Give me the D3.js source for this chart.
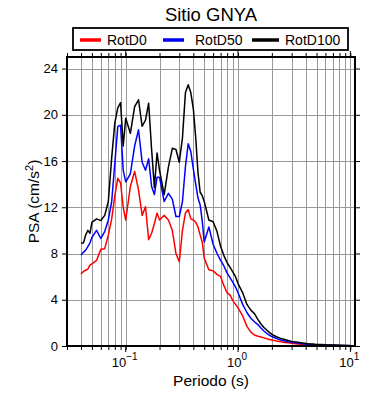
<!DOCTYPE html>
<html>
<head>
<meta charset="utf-8">
<script src="https://cdn.jsdelivr.net/npm/d3@7"></script>
<style>
  body { margin: 0; background: #fff; }
  svg { font-family: "Liberation Sans", Arial, sans-serif; }
</style>
</head>
<body>
<div id="main"></div>
<script>
// periods (s)
const periods = [0.04, 0.042, 0.044, 0.046, 0.048, 0.05, 0.055, 0.06, 0.065, 0.07, 0.075, 0.08, 0.085, 0.09, 0.095,
    0.1, 0.11, 0.12, 0.13, 0.14, 0.15, 0.16, 0.17, 0.18, 0.19, 0.2, 0.22, 0.24, 0.26, 0.28, 0.3, 0.32, 0.34, 0.36, 0.38,
    0.4, 0.42, 0.44, 0.46, 0.48, 0.5, 0.55, 0.6, 0.65, 0.7, 0.75, 0.8, 0.85, 0.9, 0.95,
    1.0, 1.1, 1.2, 1.3, 1.4, 1.5, 1.6, 1.7, 1.8, 1.9, 2.0, 2.2, 2.4, 2.6, 2.8, 3.0, 3.4, 3.8, 4.2, 4.6,
    5.0, 5.5, 6.0, 7.0, 8.0, 9.0, 10.0];

// PSA (cm/s2)
const rotD0 = [6.23, 6.45, 6.55, 6.65, 7.0, 7.1, 7.4, 8.36, 8.42, 9.6, 11.0, 13.0, 14.5, 14.1, 12.0,
    10.9, 13.8, 15.1, 13.5, 11.3, 12.05, 9.2, 9.75, 10.6, 11.5, 10.9, 11.3, 10.9, 10.0, 8.0, 7.3, 10.0, 11.5, 11.8, 11.0,
    10.9, 10.7, 10.3, 9.6, 9.0, 7.6, 6.6, 6.5, 6.2, 6.0, 5.2, 4.6, 4.4, 3.9, 3.6,
    3.3, 2.6, 1.7, 1.2, 0.95, 0.85, 0.78, 0.7, 0.63, 0.57, 0.52, 0.43, 0.36, 0.31, 0.27, 0.23, 0.18, 0.14, 0.12, 0.1,
    0.08, 0.07, 0.06, 0.05, 0.04, 0.03, 0.03];
const rotD50 = [7.87, 8.1, 8.3, 8.6, 8.9, 9.4, 10.0, 9.3, 9.9, 10.9, 12.5, 15.8, 19.0, 19.1, 15.2,
    14.2, 14.9, 17.3, 18.7, 15.9, 15.2, 16.2, 13.8, 13.1, 14.6, 14.6, 12.5, 13.2, 12.7, 11.2, 11.2, 12.5, 15.5, 17.5, 16.8,
    15.3, 14.0, 12.8, 12.2, 10.8, 9.0, 10.3, 8.8, 8.0, 7.4, 6.9, 6.3, 5.9, 5.5, 5.1,
    4.6, 3.6, 2.9, 2.4, 2.1, 1.85, 1.55, 1.3, 1.1, 0.95, 0.82, 0.65, 0.52, 0.44, 0.37, 0.32, 0.25, 0.2, 0.16, 0.13,
    0.11, 0.09, 0.08, 0.06, 0.05, 0.04, 0.03];
const rotD100 = [8.9, 8.9, 9.6, 10.0, 9.75, 10.7, 11.0, 10.85, 11.3, 12.5, 16.3, 19.3, 20.6, 21.05, 17.3,
    19.7, 18.4, 20.7, 21.3, 19.0, 19.55, 21.0, 17.0, 13.7, 16.7, 15.2, 13.1, 15.5, 17.1, 17.0, 15.9, 18.0, 21.9, 22.6, 21.9,
    20.5, 18.0, 15.0, 13.3, 13.0, 12.5, 10.9, 10.75, 9.9, 8.6, 7.8, 7.2, 6.8, 6.4, 6.0,
    5.4, 4.6, 3.6, 3.1, 2.8, 2.3, 1.9, 1.6, 1.38, 1.18, 1.0, 0.8, 0.66, 0.56, 0.47, 0.4, 0.32, 0.25, 0.2, 0.17,
    0.14, 0.12, 0.1, 0.08, 0.06, 0.05, 0.04];

const seriesNames = ["RotD0", "RotD50", "RotD100"];
const seriesColors = ["#ff0000", "#0000ff", "#000000"];
const seriesValues = [rotD0, rotD50, rotD100];

const xDomain = [0.03, 11];
const yDomain = [0, 25];
const yTicks = [0, 4, 8, 12, 16, 20, 24];
const xMajor = [0.1, 1, 10];
const xMajorLabels = ["\u22121", "0", "1"];

const W = 390, H = 400;
const m = {left: 67, right: 35, top: 57, bottom: 54};

const svg = d3.select("#main").append("svg")
    .attr("width", W)
    .attr("height", H);

const x = d3.scaleLog().domain(xDomain).range([m.left, W - m.right]);
const y = d3.scaleLinear().domain(yDomain).range([H - m.bottom, m.top]);

// minor log ticks inside the domain
const xMinor = x.ticks().filter(t => t >= xDomain[0] && t <= xDomain[1]);

// grid
const grid = svg.append("g").attr("stroke", "#999").attr("stroke-width", 1);
grid.selectAll("line.vx")
    .data(xMinor)
    .enter().append("line")
    .attr("x1", d => Math.round(x(d)) + 0.5).attr("x2", d => Math.round(x(d)) + 0.5)
    .attr("y1", m.top).attr("y2", H - m.bottom);
grid.selectAll("line.hy")
    .data(yTicks.slice(1))
    .enter().append("line")
    .attr("x1", m.left).attr("x2", W - m.right)
    .attr("y1", d => Math.round(y(d)) + 0.5).attr("y2", d => Math.round(y(d)) + 0.5);

// curves
const line = d3.line()
    .x((d, i) => x(periods[i]))
    .y(d => y(d));

svg.append("g")
    .selectAll("path")
    .data(seriesValues)
    .enter().append("path")
    .attr("d", d => line(d))
    .attr("fill", "none")
    .attr("stroke", (d, i) => seriesColors[i])
    .attr("stroke-width", 1.5)
    .attr("stroke-linejoin", "round");

// axes
const axisB = d3.axisBottom(x).tickValues(xMinor).tickSize(4).tickFormat("");
const axisT = d3.axisTop(x).tickValues(xMinor).tickSize(4).tickFormat("");
const axisL = d3.axisLeft(y).tickValues(yTicks).tickSize(5).tickPadding(4);
const axisR = d3.axisRight(y).tickValues(yTicks).tickSize(5).tickFormat("");

function styleAxis(g) {
    g.select(".domain").remove();
    g.selectAll(".tick line").attr("stroke", "#000").attr("stroke-width", 1);
}

svg.append("g").attr("transform", `translate(0,${H - m.bottom})`).call(axisB).call(styleAxis);
svg.append("g").attr("transform", `translate(0,${m.top})`).call(axisT).call(styleAxis);
svg.append("g").attr("transform", `translate(${W - m.right},0)`).call(axisR).call(styleAxis);
svg.append("g").attr("transform", `translate(${m.left},0)`).call(axisL).call(styleAxis)
    .selectAll("text")
    .attr("font-family", "Liberation Sans, Arial, sans-serif")
    .attr("font-size", 13)
    .attr("fill", "#000");

// major x ticks a bit longer + labels with superscript
const majors = svg.append("g");
majors.selectAll("line")
    .data(xMajor)
    .enter().append("line")
    .attr("x1", d => x(d)).attr("x2", d => x(d))
    .attr("y1", H - m.bottom).attr("y2", H - m.bottom + 6)
    .attr("stroke", "#000");
majors.selectAll("line.top")
    .data(xMajor)
    .enter().append("line")
    .attr("x1", d => x(d)).attr("x2", d => x(d))
    .attr("y1", m.top).attr("y2", m.top - 6)
    .attr("stroke", "#000");
const lbl = majors.selectAll("text")
    .data(xMajor)
    .enter().append("text")
    .attr("x", d => x(d) - 1)
    .attr("y", H - m.bottom + 21)
    .attr("text-anchor", "middle")
    .attr("font-size", 13);
lbl.append("tspan").text("10");
lbl.append("tspan")
    .attr("dy", -7)
    .attr("font-size", 10)
    .text((d, i) => xMajorLabels[i]);

// frame
svg.append("rect")
    .attr("x", m.left).attr("y", m.top)
    .attr("width", W - m.left - m.right).attr("height", H - m.top - m.bottom)
    .attr("fill", "none").attr("stroke", "#000").attr("stroke-width", 2);

// title
svg.append("text")
    .attr("x", 211).attr("y", 21)
    .attr("text-anchor", "middle")
    .attr("font-size", 18.5)
    .text("Sitio GNYA");

// axis titles
svg.append("text")
    .attr("x", 211).attr("y", 386)
    .attr("text-anchor", "middle")
    .attr("font-size", 15.5)
    .text("Periodo (s)");

const yl = svg.append("text")
    .attr("transform", `translate(39,${(m.top + H - m.bottom) / 2}) rotate(-90)`)
    .attr("text-anchor", "middle")
    .attr("font-size", 15.5);
yl.append("tspan").text("PSA (cm/s");
yl.append("tspan").attr("dy", -6).attr("font-size", 11).text("2");
yl.append("tspan").attr("dy", 6).text(")");

// legend
const legend = svg.append("g");
legend.append("rect")
    .attr("x", 73).attr("y", 28).attr("width", 275).attr("height", 22)
    .attr("fill", "#fff").attr("stroke", "#000").attr("stroke-width", 1.8);
const legX = [80, 163, 252];
const legLen = [21, 21, 27];
const legTextX = [107, 195, 285];
const items = legend.selectAll("g.item")
    .data(seriesNames)
    .enter().append("g");
items.append("line")
    .attr("x1", (d, i) => legX[i]).attr("x2", (d, i) => legX[i] + legLen[i])
    .attr("y1", 40).attr("y2", 40)
    .attr("stroke", (d, i) => seriesColors[i])
    .attr("stroke-width", 3.5);
items.append("text")
    .attr("x", (d, i) => legTextX[i]).attr("y", 44.5)
    .attr("font-size", 14)
    .text(d => d);
</script>
</body>
</html>
